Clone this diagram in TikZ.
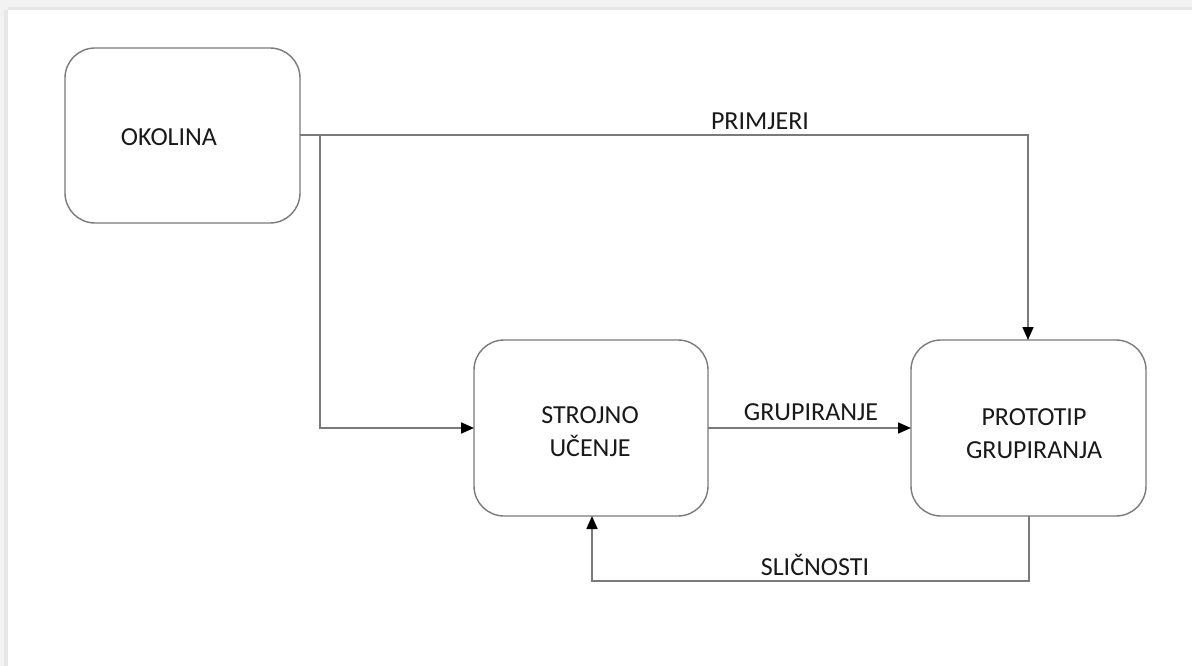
\documentclass[tikz,border=0pt]{standalone}
\usepackage{fontspec}
\setmainfont{Carlito}
\usetikzlibrary{arrows.meta}
\definecolor{linegray}{HTML}{7A7A7A}
\definecolor{framegray}{HTML}{F2F2F2}
\definecolor{framedark}{HTML}{E6E6E6}
\begin{document}
\begin{tikzpicture}[x=1pt,y=-1pt,
  box/.style={draw=linegray, line width=1.4pt, rounded corners=30pt, fill=white},
  conn/.style={draw=linegray, line width=1.6pt},
  tip/.style={-{Triangle[length=13pt,width=11pt,fill=black,color=black]}},
  lbl/.style={font=\fontsize{26}{33}\selectfont, text=black!90, align=center, inner sep=0pt}]
\useasboundingbox (0,0) rectangle (1192,666);
\fill[white] (0,0) rectangle (1192,666);
\fill[framegray] (0,0) rectangle (1192,10);
\fill[framegray] (0,0) rectangle (8,666);
\fill[framedark] (8,7) rectangle (1192,10);
\fill[framedark] (4,10) rectangle (8,666);
% boxes
\draw[box] (65,48) rectangle (300,223);
\draw[box] (474,340) rectangle (708,516);
\draw[box] (911,340) rectangle (1146,516);
\node[lbl] (okolina) at (169,137) {OKOLINA};
\node[lbl] (strojno) at (590,432) {STROJNO\\UČENJE};
\node[lbl] (prototip) at (1034,434) {PROTOTIP\\GRUPIRANJA};
\coordinate (okR) at (300,135);
\coordinate (split) at (320,135);
\coordinate (corner1) at (1028,135);
\coordinate (protTop) at (1028,340);
\coordinate (corner2) at (320,428);
\coordinate (strL) at (474,428);
\coordinate (strR) at (708,428);
\coordinate (protL) at (911,428);
\coordinate (protB) at (1029,516);
\coordinate (c3) at (1029,581);
\coordinate (c4) at (592,581);
\coordinate (strB) at (592,516);
% connectors
\draw[conn, tip] (okR) -- (corner1) -- (protTop);
\draw[conn, tip] (split) -- (corner2) -- (strL);
\draw[conn, tip] (strR) -- (protL);
\draw[conn, tip] (protB) -- (c3) -- (c4) -- (strB);
% labels
\node[lbl] (primjeri) at (760,121) {PRIMJERI};
\node[lbl] (grup) at (811,412) {GRUPIRANJE};
\node[lbl] (slic) at (815,565) {SLIČNOSTI};
\end{tikzpicture}
\end{document}
